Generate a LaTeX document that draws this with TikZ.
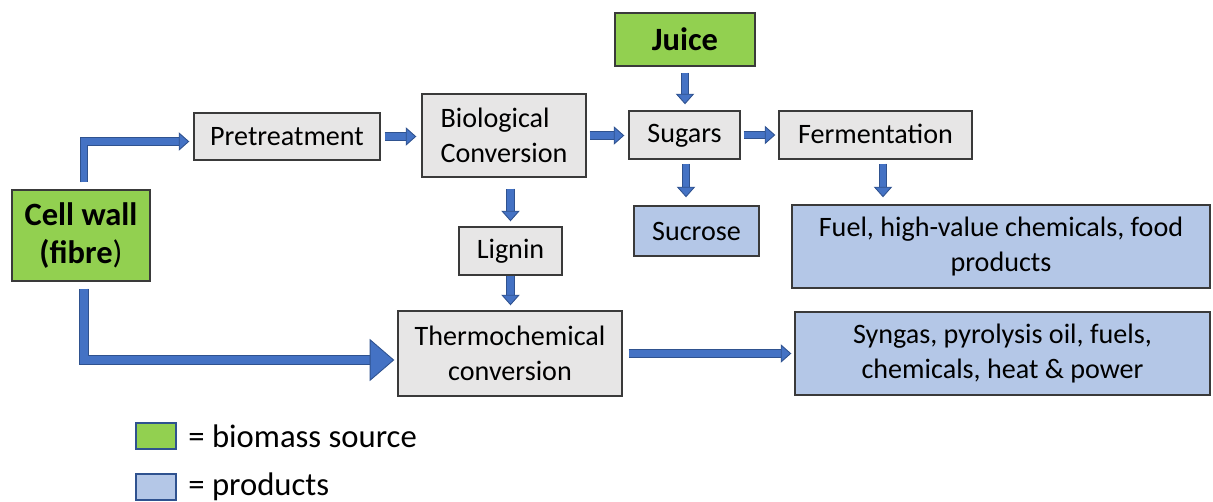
\documentclass[tikz,border=0pt]{standalone}
\usepackage{fontspec}
\setmainfont{Carlito}
\usepackage{tikz}
\usetikzlibrary{arrows.meta,positioning}

\definecolor{srcgreen}{HTML}{92D050}
\definecolor{prodblue}{HTML}{B4C7E7}
\definecolor{stepgray}{HTML}{E7E6E6}
\definecolor{arrowblue}{HTML}{4472C4}
\definecolor{arrowedge}{HTML}{2F528F}
\definecolor{boxline}{HTML}{3A3A3A}

\begin{document}
\begin{tikzpicture}[
    box/.style = {draw=boxline, line width=0.8pt, align=center, inner sep=2pt,
                  font=\fontsize{16}{19.8}\selectfont},
    stepbox/.style = {box, fill=stepgray},
    srcbox/.style = {box, fill=srcgreen, font=\fontsize{18.5}{22}\selectfont\bfseries},
    prodbox/.style = {box, fill=prodblue},
    flow/.style = {draw=arrowedge, double=arrowblue, double distance=3.9pt, line width=0.5pt,
                   -{Triangle[width=10.5pt,length=6pt,fill=arrowblue,color=arrowedge,line width=0.5pt]}},
    bigflow/.style = {flow, double distance=4.8pt,
                   -{Triangle[width=24pt,length=14pt,fill=arrowblue,color=arrowedge,line width=0.5pt]}},
    legtext/.style = {anchor=west, inner sep=0pt, font=\fontsize{18.6}{22}\selectfont}
]
\useasboundingbox (0,0) rectangle (24.26,-10.02);

\node [srcbox, minimum width=2.76cm, minimum height=1.82cm] (cell) at (1.62,-4.71)
    {Cell wall\\(fibre{\mdseries)}};
\node [stepbox, minimum width=3.72cm, minimum height=0.94cm] (pre) at (5.74,-2.73) {Pretreatment};
\node [stepbox, minimum width=3.28cm, minimum height=1.66cm, align=left] (bio) at (10.08,-2.71)
    {Biological\\Conversion};
\node [srcbox, minimum width=2.80cm, minimum height=1.06cm] (juice) at (13.70,-0.79) {Juice};
\node [stepbox, minimum width=2.22cm, minimum height=0.96cm, text depth=0.05cm] (sugars) at (13.69,-2.70) {Sugars};
\node [stepbox, minimum width=3.86cm, minimum height=0.96cm, text depth=0.05cm] (ferm) at (17.51,-2.70) {Fermentation};
\node [prodbox, minimum width=2.50cm, minimum height=1.00cm] (sucrose) at (13.93,-4.62) {Sucrose};
\node [prodbox, minimum width=8.36cm, minimum height=1.66cm] (fuel) at (20.02,-4.93)
    {Fuel, high-value chemicals, food\\products};
\node [stepbox, minimum width=2.06cm, minimum height=0.96cm] (lignin) at (10.21,-5.02) {Lignin};
\node [stepbox, minimum width=4.48cm, minimum height=1.70cm] (thermo) at (10.20,-7.07)
    {Thermochemical\\conversion};
\node [prodbox, minimum width=8.30cm, minimum height=1.66cm] (syngas) at (20.05,-7.07)
    {Syngas, pyrolysis oil, fuels,\\chemicals, heat \& power};

% legend
\node [box, fill=srcgreen, draw=arrowedge, minimum width=0.8cm, minimum height=0.52cm] (legsrc) at (3.12,-8.72) {};
\node [box, fill=prodblue, draw=arrowedge, minimum width=0.8cm, minimum height=0.52cm] (legprod) at (3.12,-9.74) {};
\node [legtext] (legsrctext) at (3.76,-8.72) {= biomass source};
\node [legtext] (legprodtext) at (3.76,-9.74) {= products};

% arrows
\coordinate (fermout) at ([xshift=0.15cm]ferm.south);
\draw [flow, shorten <=0.14cm, shorten >=0.08cm] ([xshift=0.06cm]cell.north) |- ([yshift=-0.1cm]pre.west);
\draw [bigflow, shorten <=0.14cm, shorten >=0.06cm] ([xshift=0.06cm]cell.south) |- ([yshift=-0.13cm]thermo.west);
\draw [flow, shorten <=0.08cm, shorten >=0.1cm] (pre.east) -- (pre.east -| bio.west);
\draw [flow, shorten <=0.06cm, shorten >=0.08cm] (bio.east) -- (bio.east -| sugars.west);
\draw [flow, shorten <=0.06cm, shorten >=0.06cm] (sugars.east) -- (sugars.east -| ferm.west);
\draw [flow, shorten <=0.12cm, shorten >=0.12cm] (juice.south) -- (juice.south |- sugars.north);
\draw [flow, shorten <=0.08cm, shorten >=0.16cm] ([xshift=0.03cm]sugars.south) -- ([xshift=0.03cm]sugars.south |- sucrose.north);
\draw [flow, shorten <=0.08cm, shorten >=0.14cm] (fermout) -- (fermout |- fuel.north);
\draw [flow, shorten <=0.22cm, shorten >=0.1cm] (bio.south -| lignin.north) -- (lignin.north);
\draw [flow, shorten >=0.1cm] (lignin.south) -- (thermo.north -| lignin.south);
\draw [flow, shorten <=0.12cm, shorten >=0.06cm] (thermo.east) -- (thermo.east -| syngas.west);
\end{tikzpicture}
\end{document}
